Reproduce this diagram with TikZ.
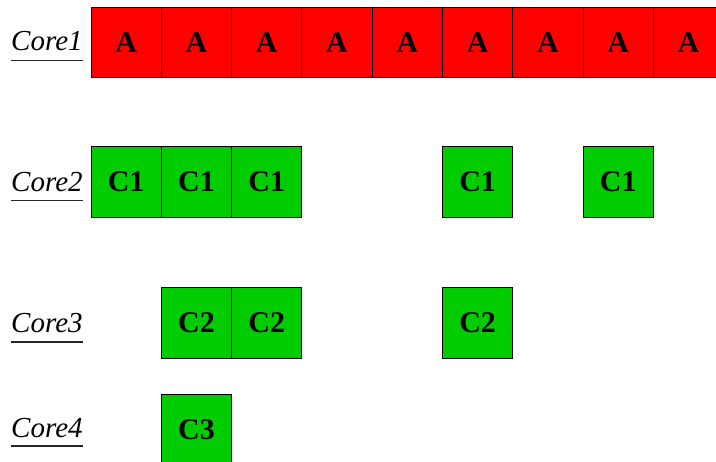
\documentclass[tikz,border=0pt]{standalone}
\usepackage{fontspec}
\setmainfont{Liberation Serif}
\begin{document}
\begin{tikzpicture}[x=1pt,y=-1pt,
  cell/.style={draw=black,line width=0.9pt,minimum width=70.3pt,minimum height=70.5pt,inner sep=0pt,
    font=\fontsize{30}{36}\selectfont\bfseries},
  redcell/.style={cell,fill=red},
  greencell/.style={cell,fill=green!80!black},
  corelabel/.style={anchor=base west,inner sep=0pt,font=\fontsize{29}{34}\selectfont\itshape},
  uline/.style={line width=1.3pt,black!85}]
\useasboundingbox (0,0) rectangle (716,462);
\clip (0,0) rectangle (716,462);
% labels
\foreach \n/\b/\u in {1/51/60.5, 2/191.5/200.5, 3/333/342, 4/438/446}{
  \node[corelabel] (lab\n) at (11,\b) {Core\n};
  \coordinate (ul\n a) at (11,\u);
  \coordinate (ul\n b) at (82.5,\u);
  \draw[uline] (ul\n a) -- (ul\n b);
}
% row 1
\foreach \i in {0,...,8}{
  \node[redcell] (a\i) at ({91+70.3*(\i+0.5)},42.3) {A};
}
% row 2
\foreach \i in {0,1,2,5,7}{
  \node[greencell] (b\i) at ({91+70.3*(\i+0.5)},182.2) {C1};
}
% row 3
\foreach \i in {1,2,5}{
  \node[greencell] (c\i) at ({91+70.3*(\i+0.5)},323.2) {C2};
}
% row 4
\node[greencell] (d1) at ({91+70.3*1.5},429.3) {C3};
\end{tikzpicture}
\end{document}
